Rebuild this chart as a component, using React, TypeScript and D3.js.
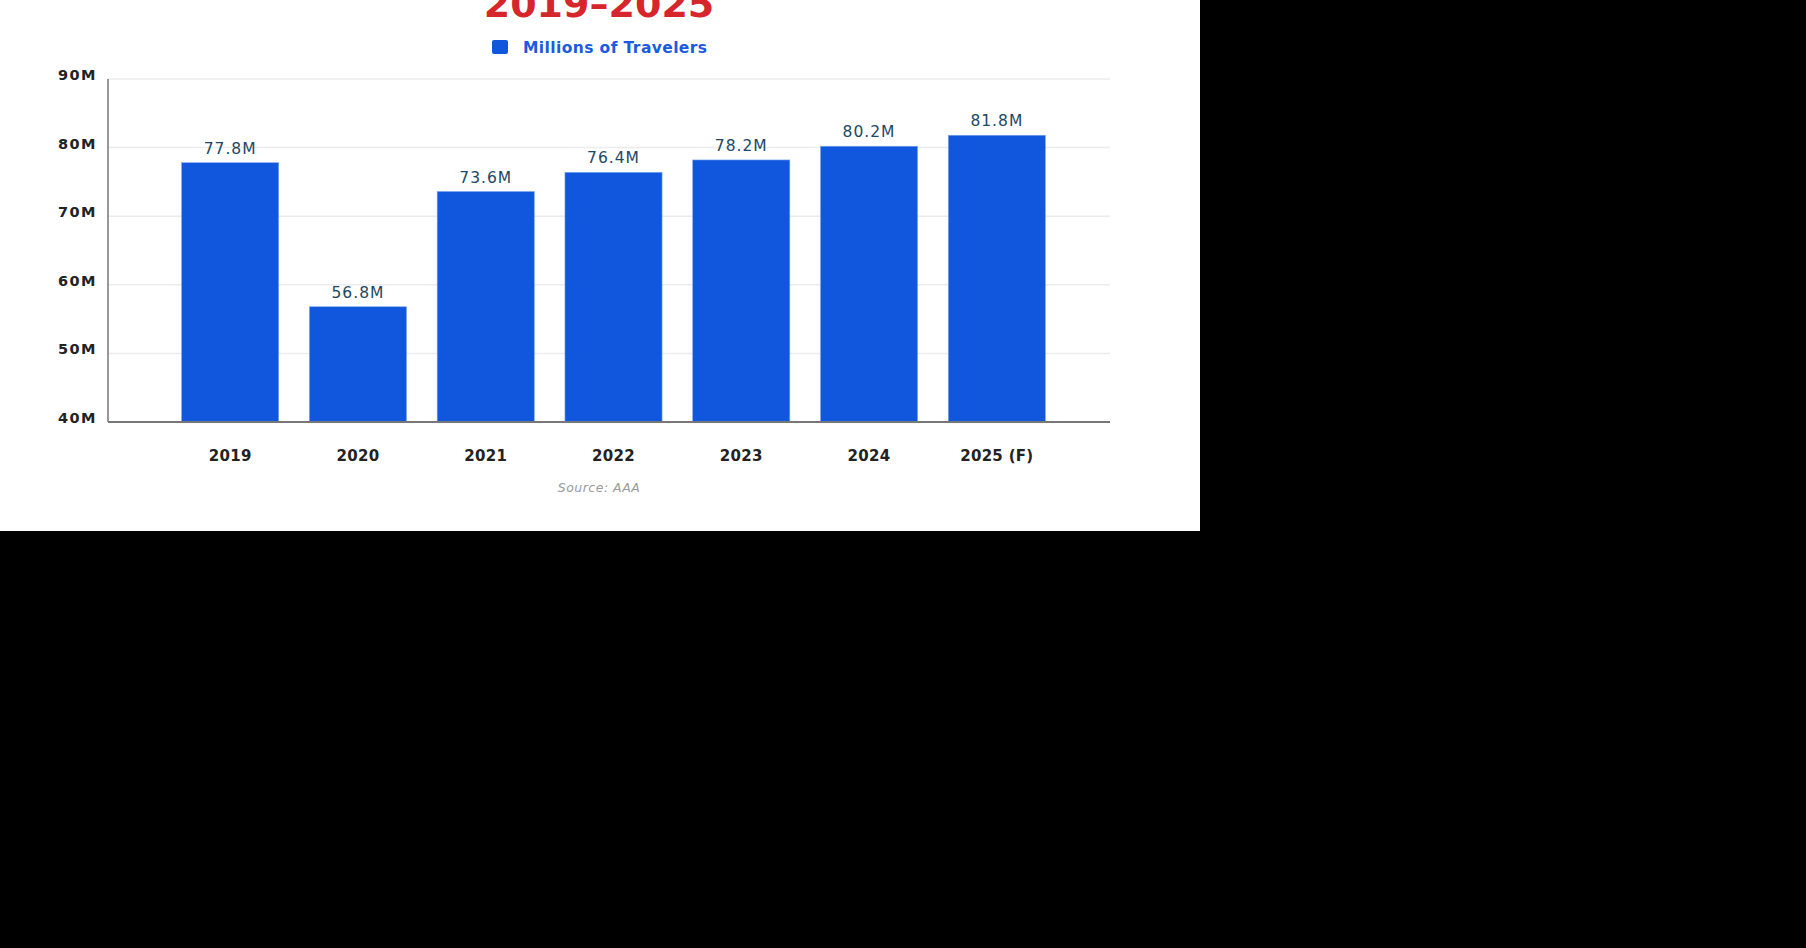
import React, { useEffect, useRef } from 'react'
import * as d3 from 'd3'

const years = ['2019', '2020', '2021', '2022', '2023', '2024', '2025 (F)']
const travelers = [77.8, 56.8, 73.6, 76.4, 78.2, 80.2, 81.8]
const yTicks = [40, 50, 60, 70, 80, 90]

const WIDTH = 1200
const HEIGHT = 531

const App: React.FC = () => {
  const svgRef = useRef<SVGSVGElement>(null)

  useEffect(() => {
    if (!svgRef.current) return
    const svg = d3.select(svgRef.current)
    svg.selectAll('*').remove()

    const font = '"DejaVu Sans", sans-serif'

    const x = d3.scaleBand<string>()
      .domain(years)
      .range([119, 1108])
      .paddingInner(0.24)
      .paddingOuter(0.49)

    const y = d3.scaleLinear()
      .domain([40, 90])
      .range([422, 79])

    // background
    svg.append('rect')
      .attr('width', WIDTH)
      .attr('height', HEIGHT)
      .attr('fill', '#fff')

    // title (its upper line is outside the frame)
    svg.append('text')
      .text('2019–2025')
      .attr('x', 599)
      .attr('y', 17)
      .attr('text-anchor', 'middle')
      .attr('font-family', font)
      .attr('font-weight', 700)
      .attr('font-size', 38)
      .attr('fill', '#d7262b')

    // legend
    svg.append('rect')
      .attr('x', 492)
      .attr('y', 40)
      .attr('width', 16)
      .attr('height', 14)
      .attr('rx', 2)
      .attr('fill', '#1057de')
    svg.append('text')
      .text('Millions of Travelers')
      .attr('x', 523)
      .attr('y', 53)
      .attr('font-family', font)
      .attr('font-weight', 600)
      .attr('font-size', 15.5)
      .attr('letter-spacing', 0.4)
      .attr('fill', '#1a5be0')

    // gridlines
    svg.append('g')
      .selectAll('line')
      .data(yTicks.slice(1))
      .enter()
      .append('line')
      .attr('x1', 108)
      .attr('x2', 1110)
      .attr('y1', d => y(d))
      .attr('y2', d => y(d))
      .attr('stroke', '#ececec')
      .attr('stroke-width', 1.5)

    // y tick labels
    svg.append('g')
      .selectAll('text')
      .data(yTicks)
      .enter()
      .append('text')
      .text(d => d + 'M')
      .attr('x', 97)
      .attr('y', d => y(d) + 1)
      .attr('text-anchor', 'end')
      .attr('font-family', font)
      .attr('font-weight', 700)
      .attr('font-size', 14.5)
      .attr('letter-spacing', 1.5)
      .attr('fill', '#222')

    // bars
    svg.append('g')
      .selectAll('rect')
      .data(travelers)
      .enter()
      .append('rect')
      .attr('x', (d, i) => x(years[i])!)
      .attr('y', d => y(d))
      .attr('width', x.bandwidth())
      .attr('height', d => y(40) - y(d))
      .attr('fill', '#1057de')
      .attr('stroke', '#7fa6f0')
      .attr('stroke-width', 0.6)

    // value labels
    svg.append('g')
      .selectAll('text')
      .data(travelers)
      .enter()
      .append('text')
      .text(d => d.toFixed(1) + 'M')
      .attr('x', (d, i) => x(years[i])! + x.bandwidth() / 2)
      .attr('y', d => y(d) - 9)
      .attr('text-anchor', 'middle')
      .attr('font-family', font)
      .attr('font-size', 15.5)
      .attr('letter-spacing', 1)
      .attr('fill', '#1c4863')

    // axes
    svg.append('line')
      .attr('x1', 108).attr('x2', 108)
      .attr('y1', 79).attr('y2', 422)
      .attr('stroke', '#555')
      .attr('stroke-width', 1.2)
    svg.append('line')
      .attr('x1', 108).attr('x2', 1110)
      .attr('y1', 422).attr('y2', 422)
      .attr('stroke', '#777')
      .attr('stroke-width', 2)

    // x labels
    svg.append('g')
      .selectAll('text')
      .data(years)
      .enter()
      .append('text')
      .text(d => d)
      .attr('x', d => x(d)! + x.bandwidth() / 2)
      .attr('y', 461)
      .attr('text-anchor', 'middle')
      .attr('font-family', font)
      .attr('font-weight', 700)
      .attr('font-size', 15)
      .attr('letter-spacing', 0.3)
      .attr('fill', '#222')

    // source
    svg.append('text')
      .text('Source: AAA')
      .attr('x', 599)
      .attr('y', 492)
      .attr('text-anchor', 'middle')
      .attr('font-family', font)
      .attr('font-style', 'italic')
      .attr('font-size', 12.5)
      .attr('letter-spacing', 0.5)
      .attr('fill', '#9a9a9a')
  }, [])

  return (
    <div style={{ position: 'fixed', inset: 0, background: '#000' }}>
      <svg
        ref={svgRef}
        width={WIDTH}
        height={HEIGHT}
        style={{ display: 'block', position: 'absolute', left: 0, top: 0 }}
      />
    </div>
  )
}

export default App
